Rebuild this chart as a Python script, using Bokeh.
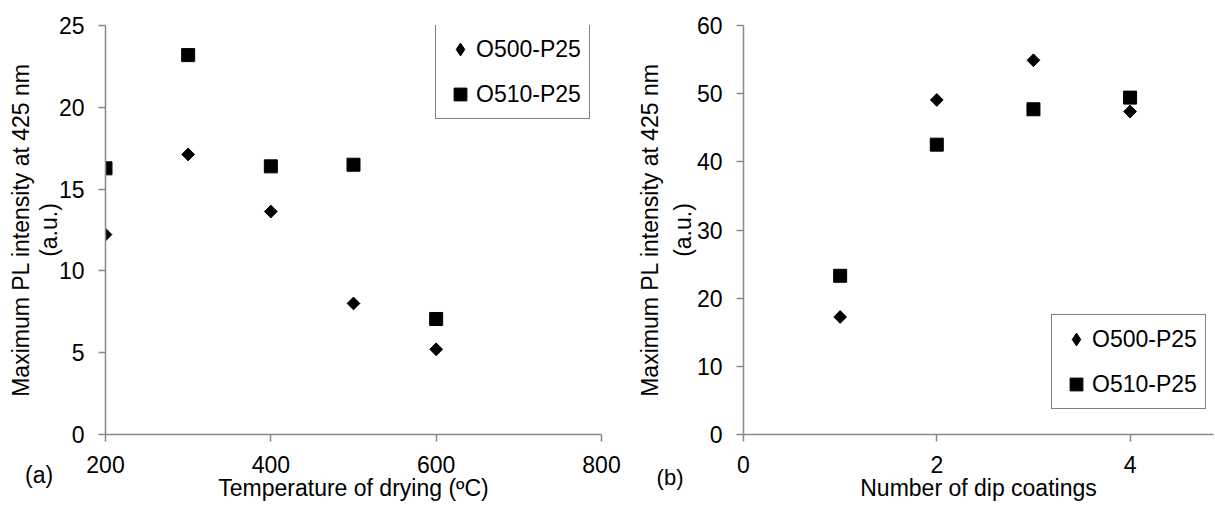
import math
from bokeh.plotting import figure
from bokeh.layouts import row
from bokeh.models import Range1d, FixedTicker, Legend, LegendItem, Label
from bokeh.embed import file_html
from bokeh.resources import INLINE

# ---- data ----
temperature = [200, 300, 400, 500, 600]
o500_temp = [12.22, 17.12, 13.63, 8.01, 5.21]
o510_temp = [16.27, 23.19, 16.39, 16.49, 7.06]

coatings = [1, 2, 3, 4]
o500_coat = [17.24, 49.08, 54.90, 47.38]
o510_coat = [23.28, 42.52, 47.71, 49.42]

series_names = ["O500-P25", "O510-P25"]
temp_ticks = [200, 400, 600, 800]
temp_yticks = [0, 5, 10, 15, 20, 25]
coat_ticks = [0, 2, 4]
coat_yticks = [0, 10, 20, 30, 40, 50, 60]

FONT = "Liberation Sans"
FS = "23px"
AX = "#898989"
H = 506


def make_fig(width, bl, br, xr, yr, xt, yt, xlabel):
    p = figure(width=width, height=H, x_range=Range1d(*xr), y_range=Range1d(*yr),
               output_backend="svg", toolbar_location=None,
               min_border_left=bl, min_border_right=br, min_border_top=24,
               min_border_bottom=H - 434)
    p.xgrid.visible = False
    p.ygrid.visible = False
    p.outline_line_color = None
    p.background_fill_color = "white"
    p.border_fill_color = "white"
    for ax in (p.xaxis[0], p.yaxis[0]):
        ax.axis_line_color = AX
        ax.axis_line_width = 1.5
        ax.major_tick_line_color = AX
        ax.major_tick_line_width = 1.5
        ax.major_tick_out = 7
        ax.major_tick_in = 0
        ax.minor_tick_line_color = None
        ax.major_label_text_font = FONT
        ax.major_label_text_font_size = FS
        ax.major_label_text_color = "black"
    p.xaxis[0].ticker = FixedTicker(ticks=xt)
    p.yaxis[0].ticker = FixedTicker(ticks=yt)
    p.xaxis[0].major_label_standoff = 14
    p.yaxis[0].major_label_standoff = 14
    p.xaxis[0].axis_label = xlabel
    p.xaxis[0].axis_label_standoff = -1
    p.xaxis[0].axis_label_text_font = FONT
    p.xaxis[0].axis_label_text_font_size = FS
    p.xaxis[0].axis_label_text_font_style = "normal"
    p.xaxis[0].axis_label_text_color = "black"
    return p


def add_text(p, side, x, y, text, angle=0.0, size=FS):
    p.add_layout(Label(x=x, y=y, text=text, angle=angle, text_align="center",
                       text_baseline="middle", text_font=FONT, text_font_size=size,
                       text_color="black"), side)


def add_legend(p, r1, r2, loc):
    leg = Legend(items=[LegendItem(label=series_names[0], renderers=[r1]),
                        LegendItem(label=series_names[1], renderers=[r2])],
                 location=loc, glyph_width=32, glyph_height=32, label_standoff=-5,
                 padding=8, spacing=13, margin=0,
                 border_line_color="black", border_line_width=1,
                 background_fill_color="white", background_fill_alpha=1,
                 label_text_font=FONT, label_text_font_size=FS, label_text_color="black")
    p.add_layout(leg)


def add_series(p, xs, ys_a, ys_b):
    # diamond glyph (used as the legend swatch) sits inside the rotated square
    rd = p.scatter(xs, ys_a, marker="diamond", size=12, color="black")
    p.scatter(xs, ys_a, marker="square", angle=math.pi / 4, size=9, color="black")
    rb = p.scatter(xs, ys_b, marker="square", size=13, color="black")
    return rd, rb


# ---- panel (a) ----
pa = make_fig(634, 105, 33, (200, 800), (0, 25), temp_ticks, temp_yticks,
              "Temperature of drying (ºC)")
la, lb = add_series(pa, temperature, o500_temp, o510_temp)
add_legend(pa, la, lb, (330, 315))
add_text(pa, "left", 132.0, 12.5, "(a.u.)", angle=math.pi / 2)
add_text(pa, "left", 97.4, 12.5, "Maximum PL intensity at 425 nm", angle=math.pi / 2)
add_text(pa, "right", 119.6, -2.5, "(a)")

# ---- panel (b) ----
pb = make_fig(580, 109, 1, (0, 4.863), (0, 60), coat_ticks, coat_yticks,
              "Number of dip coatings")
lc, ld = add_series(pb, coatings, o500_coat, o510_coat)
add_legend(pb, lc, ld, (308, 25))
add_text(pb, "left", -0.623, 30, "(a.u.)", angle=math.pi / 2)
add_text(pb, "left", -0.968, 30, "Maximum PL intensity at 425 nm", angle=math.pi / 2)
add_text(pb, "above", -0.76, -6.37, "(b)", size="22px")

layout = row(pa, pb)
open("out.html", "w").write(file_html(layout, INLINE))
